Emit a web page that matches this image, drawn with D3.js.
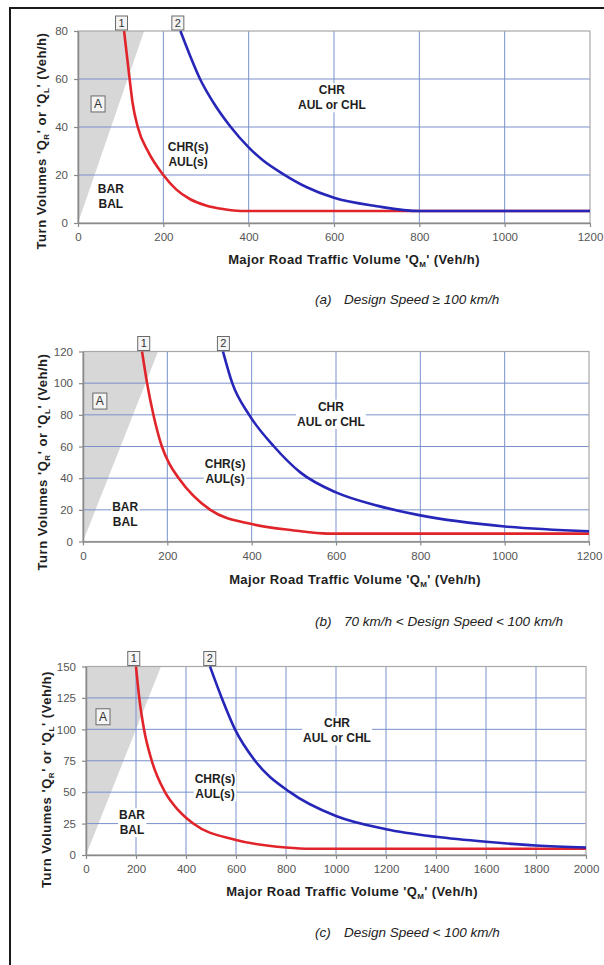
<!DOCTYPE html>
<html>
<head>
<meta charset="utf-8">
<script src="https://cdn.jsdelivr.net/npm/d3@7/dist/d3.min.js"></script>
<style>
body{margin:0;background:#fff}
svg{display:block}
text{font-family:"Liberation Sans",Arial,sans-serif}
</style>
</head>
<body>
<div id="chart"></div>
<script>
// 数据：三个图 (a)(b)(c) 的刻度与曲线读数
const xTicksA = [0, 200, 400, 600, 800, 1000, 1200]
const yTicksA = [0, 20, 40, 60, 80]
const xTicksB = [0, 200, 400, 600, 800, 1000, 1200]
const yTicksB = [0, 20, 40, 60, 80, 100, 120]
const xTicksC = [0, 200, 400, 600, 800, 1000, 1200, 1400, 1600, 1800, 2000]
const yTicksC = [0, 25, 50, 75, 100, 125, 150]

// 曲线 1 (红) 与曲线 2 (蓝)，[Q_M, Q_R/Q_L]
const redA = [[108,80],[121,60],[128,50],[140,40],[165,29.5],[200,20],[230,14],[262,10],[300,7.3],[340,5.8],[380,5],[1200,5]]
const blueA = [[240,80],[262,70],[286,60],[318,50],[358,40],[400,31.5],[434,26],[480,20.5],[535,15],[600,10.5],[700,7],[800,5],[1200,5]]
const redB = [[140,120],[152,100],[167,80],[187,60],[205,49],[227,40],[302,20],[400,11],[500,7],[580,5],[1200,5]]
const blueB = [[332,120],[354,100],[394,80],[453,60],[516,43.5],[600,31],[700,22.5],[800,16.5],[1000,9.5],[1200,6.5]]
const redC = [[200,150],[213,125],[232,100],[263,75],[316,50],[370,35.5],[429,25],[600,12],[800,6],[900,5],[2000,5]]
const blueC = [[496,150],[543,125],[596,100],[676,75],[816,50],[1000,31],[1200,20.5],[1400,14.5],[1600,10.5],[1800,7.5],[2000,6]]

// 灰色区域 A 的三角形
const shadeA = [[0,0],[0,80],[155,80]]
const shadeB = [[0,0],[0,120],[178,120]]
const shadeC = [[0,0],[0,150],[300,150]]

const captions = [['(a)', 'Design Speed \u2265 100 km/h'], ['(b)', '70 km/h < Design Speed < 100 km/h'], ['(c)', 'Design Speed < 100 km/h']]

// 画布
const width = 604, height = 965
const svg = d3.select('#chart').append('svg').attr('width', width).attr('height', height)

// 外框（只有上边和左边）
svg.append('line').attr('x1', 9).attr('x2', width).attr('y1', 8).attr('y2', 8).attr('stroke', '#1a1a1a').attr('stroke-width', 2)
svg.append('line').attr('x1', 10).attr('x2', 10).attr('y1', 7).attr('y2', height).attr('stroke', '#1a1a1a').attr('stroke-width', 2)

// 每个图的位置与注释（注释位置用数据坐标）
const panels = [
  {xt: xTicksA, yt: yTicksA, red: redA, blue: blueA, shade: shadeA, cap: captions[0],
   l: 78, r: 590, t: 31, b: 223, xTitleX: 354, xTitleY: 264, yTitleX: 46, yTitleY: 141, capY: 304,
   box1: 102, box2: 234, aBox: [47, 49.6], bar: [77, 11], chrs: [258, 28.5], chr: [595, 52.3]},
  {xt: xTicksB, yt: yTicksB, red: redB, blue: blueB, shade: shadeB, cap: captions[1],
   l: 83, r: 589, t: 351.5, b: 541.5, xTitleX: 355, xTitleY: 584, yTitleX: 47, yTitleY: 462, capY: 626,
   box1: 144, box2: 333, aBox: [40, 88.7], bar: [100, 17], chrs: [337, 44.3], chr: [588, 80.6]},
  {xt: xTicksC, yt: yTicksC, red: redC, blue: blueC, shade: shadeC, cap: captions[2],
   l: 86, r: 586, t: 666.5, b: 855, xTitleX: 352, xTitleY: 896, yTitleX: 50.5, yTitleY: 779.5, capY: 937,
   box1: 191, box2: 495, aBox: [68, 110], bar: [184, 26], chrs: [516, 54.5], chr: [1004, 99]}
]

const gridColor = '#7a91cd'
const axisColor = '#8a8a8a'

// 带白底的多行文字
function label(g, cx, cy, lines) {
  const step = 15
  const t = g.append('text').attr('text-anchor', 'middle').attr('font-size', 12).attr('font-weight', 'bold').attr('fill', '#1e1e1e')
  lines.forEach((s, i) => {
    t.append('tspan').attr('x', cx).attr('y', cy + (i - (lines.length - 1) / 2) * step).attr('dy', '0.36em').text(s)
  })
  const bb = t.node().getBBox()
  g.insert('rect', () => t.node()).attr('x', bb.x - 1).attr('y', bb.y).attr('width', bb.width + 2).attr('height', bb.height).attr('fill', '#fff')
}

// 小方框编号
function tagBox(g, cx, cy, s, w, h, fs) {
  g.append('rect').attr('x', cx - w / 2).attr('y', cy - h / 2).attr('width', w).attr('height', h)
    .attr('fill', '#f4f4f4').attr('stroke', '#6a6a6a').attr('stroke-width', 1)
  g.append('text').attr('x', cx).attr('y', cy).attr('dy', '0.36em').attr('text-anchor', 'middle')
    .attr('font-size', fs).attr('fill', '#333').text(s)
}

function drawPanel(p) {
  const x = d3.scaleLinear().domain([0, p.xt[p.xt.length - 1]]).range([p.l, p.r])
  const y = d3.scaleLinear().domain([0, p.yt[p.yt.length - 1]]).range([p.b, p.t])
  const g = svg.append('g')

  // 灰色区域
  g.append('path').attr('d', d3.line().x(d => x(d[0])).y(d => y(d[1]))(p.shade) + 'Z').attr('fill', '#d7d7d7')

  // 网格
  g.selectAll('line.gx').data(p.xt.slice(1, -1)).join('line').attr('class', 'gx')
    .attr('x1', d => x(d)).attr('x2', d => x(d)).attr('y1', p.t).attr('y2', p.b)
    .attr('stroke', gridColor).attr('stroke-width', 1)
  g.selectAll('line.gy').data(p.yt.slice(1, -1)).join('line').attr('class', 'gy')
    .attr('x1', p.l).attr('x2', p.r).attr('y1', d => y(d)).attr('y2', d => y(d))
    .attr('stroke', gridColor).attr('stroke-width', 1)
  g.append('rect').attr('x', p.l).attr('y', p.t).attr('width', p.r - p.l).attr('height', p.b - p.t)
    .attr('fill', 'none').attr('stroke', '#a8a8a8').attr('stroke-width', 1.2)

  // 坐标轴
  const xAxis = d3.axisBottom(x).tickValues(p.xt).tickFormat(d3.format('d')).tickSize(4).tickSizeOuter(0).tickPadding(6)
  const yAxis = d3.axisLeft(y).tickValues(p.yt).tickFormat(d3.format('d')).tickSize(4).tickSizeOuter(0).tickPadding(6)
  const gx = g.append('g').attr('transform', `translate(0,${p.b})`).call(xAxis)
  const gy = g.append('g').attr('transform', `translate(${p.l},0)`).call(yAxis)
  for (const a of [gx, gy]) {
    a.select('.domain').attr('stroke', axisColor).attr('stroke-width', 1.5)
    a.selectAll('.tick line').attr('stroke', axisColor).attr('stroke-width', 1.2)
    a.selectAll('.tick text').attr('fill', '#555').attr('font-size', 11.5).attr('font-family', '"Liberation Sans",Arial,sans-serif')
  }

  // 注释文字
  tagBox(g, x(p.aBox[0]), y(p.aBox[1]), 'A', 14, 16, 12)
  label(g, x(p.bar[0]), y(p.bar[1]), ['BAR', 'BAL'])
  label(g, x(p.chrs[0]), y(p.chrs[1]), ['CHR(s)', 'AUL(s)'])
  label(g, x(p.chr[0]), y(p.chr[1]), ['CHR', 'AUL  or CHL'])

  // 曲线
  const line = d3.line().x(d => x(d[0])).y(d => y(d[1])).curve(d3.curveMonotoneX)
  g.append('path').datum(p.red).attr('d', line).attr('fill', 'none').attr('stroke', '#e0242a').attr('stroke-width', 2.6)
  g.append('path').datum(p.blue).attr('d', line).attr('fill', 'none').attr('stroke', '#2626b8').attr('stroke-width', 2.6)

  // 曲线编号
  tagBox(g, x(p.box1), p.t - 8, '1', 12, 14, 11)
  tagBox(g, x(p.box2), p.t - 8, '2', 12, 14, 11)

  // 轴标题
  const xt = g.append('text').attr('x', p.xTitleX).attr('y', p.xTitleY).attr('text-anchor', 'middle')
    .attr('font-size', 13).attr('font-weight', 'bold').attr('letter-spacing', 0.4).attr('fill', '#1e1e1e')
  xt.append('tspan').text("Major Road Traffic Volume 'Q")
  xt.append('tspan').attr('font-size', 8).attr('dy', 3).text('M')
  xt.append('tspan').attr('dy', -3).text("' (Veh/h)")

  const yt = g.append('text').attr('transform', `translate(${p.yTitleX},${p.yTitleY}) rotate(-90)`).attr('text-anchor', 'middle')
    .attr('font-size', 13).attr('font-weight', 'bold').attr('letter-spacing', 0.55).attr('fill', '#1e1e1e')
  yt.append('tspan').text("Turn Volumes 'Q")
  yt.append('tspan').attr('font-size', 8).attr('dy', 3).text('R')
  yt.append('tspan').attr('dy', -3).text("' or 'Q")
  yt.append('tspan').attr('font-size', 8).attr('dy', 3).text('L')
  yt.append('tspan').attr('dy', -3).text("' (Veh/h)")

  // 图注
  g.append('text').attr('x', 315).attr('y', p.capY).attr('font-size', 13.5).attr('font-style', 'italic').attr('fill', '#222').text(p.cap[0])
  g.append('text').attr('x', 344).attr('y', p.capY).attr('font-size', 13.5).attr('font-style', 'italic').attr('fill', '#222').text(p.cap[1])
}

panels.forEach(drawPanel)
</script>
</body>
</html>
